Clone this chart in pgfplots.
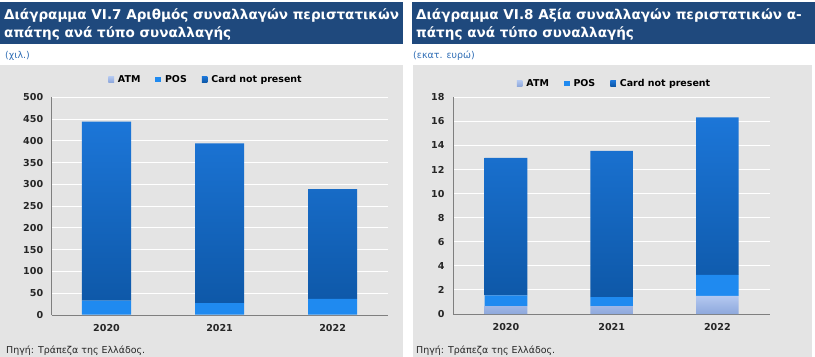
\documentclass[border=0pt]{standalone}
\usepackage{pgfplots}
\pgfplotsset{compat=1.18}
\usepackage{fontspec}
\setmainfont{DejaVu Sans}
\definecolor{band}{HTML}{1F497D}
\definecolor{panel}{HTML}{E4E4E4}
\definecolor{cnptop}{HTML}{1C76D8}
\definecolor{cnpbot}{HTML}{0E58A8}
\definecolor{pos}{HTML}{1F8AF0}
\definecolor{atmtop}{HTML}{B3C8F0}
\definecolor{atmbot}{HTML}{8EA8DC}
\definecolor{axgray}{HTML}{7F7F7F}
\definecolor{unitblue}{HTML}{2F6DB5}
\pgfplotsset{
  mybars/.style={
    ybar stacked, scale only axis,
    axis x line*=bottom, axis y line*=left,
    axis line style={draw=axgray, line width=0.8pt},
    ymajorgrids, grid style={white, line width=1pt},
    major tick length=0pt,
    xtick={0,1,2}, xticklabels={2020,2021,2022},
    ymin=0,
    /pgf/number format/assume math mode=true,
    ticklabel style={font=\bfseries\fontsize{9.6}{11}\selectfont, text=black!85},
    xticklabel style={yshift=-6bp},
    yticklabel style={xshift=-5bp},
    legend columns=3,
    legend style={draw=none, fill=none, font=\bfseries\fontsize{9.5}{11}\selectfont,
      /tikz/every odd column/.append style={column sep=2bp},
      /tikz/every even column/.append style={column sep=13bp}, anchor=center},
    legend image code/.code={\fill[##1] (0bp,-2.8bp) rectangle (5.6bp,2.8bp);},
  },
}
\begin{document}
\begin{tikzpicture}
\useasboundingbox (0,0) rectangle (815bp,-357bp);
\clip (0,0) rectangle (815bp,-357bp);
\fill[band] (0,-2bp) rectangle (403bp,-44bp);
\fill[band] (412bp,-2bp) rectangle (815bp,-44bp);
\fill[panel] (0bp,-65bp) rectangle (403bp,-357bp);
\fill[panel] (413bp,-65bp) rectangle (812bp,-357bp);
\node[anchor=base west, text=white, font=\bfseries\fontsize{13.6}{18}\selectfont, inner sep=0] at (4bp,-19.5bp) {Διάγραμμα VI.7 Αριθμός συναλλαγών περιστατικών};
\node[anchor=base west, text=white, font=\bfseries\fontsize{13.6}{18}\selectfont, inner sep=0] at (4bp,-37.5bp) {απάτης ανά τύπο συναλλαγής};
\node[anchor=base west, text=white, font=\bfseries\fontsize{13.6}{18}\selectfont, inner sep=0] at (416bp,-19.5bp) {Διάγραμμα VI.8 Αξία συναλλαγών περιστατικών α-};
\node[anchor=base west, text=white, font=\bfseries\fontsize{13.6}{18}\selectfont, inner sep=0] at (416bp,-37.5bp) {πάτης ανά τύπο συναλλαγής};
\node[anchor=base west, text=unitblue, font=\fontsize{9.5}{11}\selectfont, inner sep=0] at (5bp,-58bp) {(χιλ.)};
\node[anchor=base west, text=unitblue, font=\fontsize{9.5}{11}\selectfont, inner sep=0] at (413bp,-58bp) {(εκατ. ευρώ)};
\node[anchor=base west, text=black!85, font=\fontsize{9.5}{11}\selectfont, inner sep=0] at (6bp,-353bp) {Πηγή: Τράπεζα της Ελλάδος.};
\node[anchor=base west, text=black!85, font=\fontsize{9.5}{11}\selectfont, inner sep=0] at (416bp,-353bp) {Πηγή: Τράπεζα της Ελλάδος.};

\begin{axis}[mybars, at={(51.7bp,-315bp)}, anchor=south west,
  width=336.3bp, height=217.7bp,
  xmin=-0.485, xmax=2.49, ymax=500, ytick={0,50,...,500},
  bar width=0.434,
  legend style={at={(0.459,1)}, yshift=18bp}]
\addplot[draw=none, top color=atmtop, bottom color=atmbot] coordinates {(0,1) (1,1) (2,1)};
\addplot[draw=none, fill=pos] coordinates {(0,32) (1,26) (2,36)};
\addplot[draw=none, top color=cnptop, bottom color=cnpbot] coordinates {(0,411) (1,367) (2,252)};
\legend{ATM,POS,Card not present}
\end{axis}

\begin{axis}[mybars, at={(453bp,-314bp)}, anchor=south west,
  width=316.7bp, height=216.7bp,
  xmin=-0.501, xmax=2.495, ymax=18, ytick={0,2,...,18},
  bar width=0.403,
  legend style={at={(0.51,1)}, yshift=14bp}]
\addplot[draw=none, top color=atmtop, bottom color=atmbot] coordinates {(0,0.66) (1,0.66) (2,1.5)};
\addplot[draw=none, fill=pos] coordinates {(0,0.89) (1,0.75) (2,1.74)};
\addplot[draw=none, top color=cnptop, bottom color=cnpbot] coordinates {(0,11.41) (1,12.13) (2,13.09)};
\legend{ATM,POS,Card not present}
\end{axis}
\end{tikzpicture}
\end{document}
